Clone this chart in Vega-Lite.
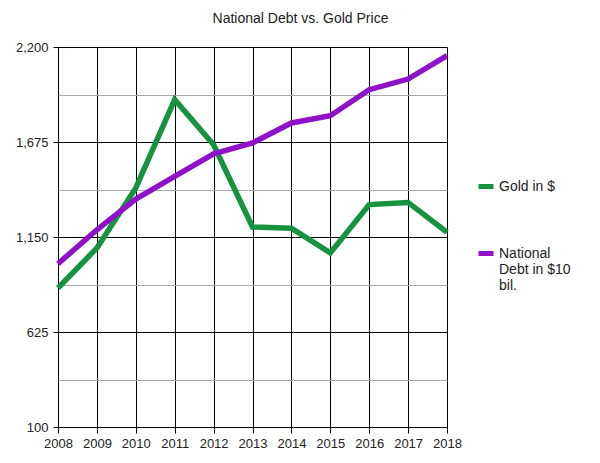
{
  "$schema": "https://vega.github.io/schema/vega-lite/v6.json",
  "width": 389,
  "height": 380,
  "autosize": "none",
  "padding": {"left": 58, "top": 47, "right": 153, "bottom": 36},
  "background": "white",
  "config": {
    "font": "Liberation Sans",
    "view": {"stroke": null},
    "axis": {"labelFont": "Liberation Sans", "labelColor": "#222", "labelFontSize": 13}
  },
  "title": {
    "text": "National Debt vs. Gold Price",
    "fontSize": 14,
    "font": "Liberation Sans",
    "fontWeight": "normal",
    "color": "#222",
    "anchor": "middle",
    "dx": 48,
    "baseline": "alphabetic",
    "offset": 4
  },
  "data": {
    "values": [
      {"year": 2008, "series": "Gold in $", "value": 868},
      {"year": 2009, "series": "Gold in $", "value": 1089},
      {"year": 2010, "series": "Gold in $", "value": 1421},
      {"year": 2011, "series": "Gold in $", "value": 1909},
      {"year": 2012, "series": "Gold in $", "value": 1660},
      {"year": 2013, "series": "Gold in $", "value": 1205},
      {"year": 2014, "series": "Gold in $", "value": 1199},
      {"year": 2015, "series": "Gold in $", "value": 1062},
      {"year": 2016, "series": "Gold in $", "value": 1329},
      {"year": 2017, "series": "Gold in $", "value": 1341},
      {"year": 2018, "series": "Gold in $", "value": 1176},
      {"year": 2008, "series": "National Debt in $10 bil.", "value": 1002},
      {"year": 2009, "series": "National Debt in $10 bil.", "value": 1190},
      {"year": 2010, "series": "National Debt in $10 bil.", "value": 1360},
      {"year": 2011, "series": "National Debt in $10 bil.", "value": 1485},
      {"year": 2012, "series": "National Debt in $10 bil.", "value": 1610},
      {"year": 2013, "series": "National Debt in $10 bil.", "value": 1670},
      {"year": 2014, "series": "National Debt in $10 bil.", "value": 1780},
      {"year": 2015, "series": "National Debt in $10 bil.", "value": 1820},
      {"year": 2016, "series": "National Debt in $10 bil.", "value": 1964},
      {"year": 2017, "series": "National Debt in $10 bil.", "value": 2023},
      {"year": 2018, "series": "National Debt in $10 bil.", "value": 2152}
    ]
  },
  "mark": {"type": "line", "strokeWidth": 5.5, "strokeJoin": "miter"},
  "encoding": {
    "x": {
      "field": "year",
      "type": "quantitative",
      "scale": {"domain": [2008, 2018], "nice": false, "zero": false},
      "axis": {
        "title": null,
        "values": [2008, 2009, 2010, 2011, 2012, 2013, 2014, 2015, 2016, 2017, 2018],
        "format": "d",
        "grid": true,
        "gridColor": "#000",
        "gridOpacity": 1,
        "domainColor": "#000",
        "tickColor": "#000",
        "tickSize": 6,
        "labelPadding": 4,
        "labelFlush": false,
        "labelOverlap": false
      }
    },
    "y": {
      "field": "value",
      "type": "quantitative",
      "scale": {"domain": [100, 2200], "nice": false, "zero": false},
      "axis": {
        "title": null,
        "values": [100, 362.5, 625, 887.5, 1150, 1412.5, 1675, 1937.5, 2200],
        "labelExpr": "indexof([100, 625, 1150, 1675, 2200], datum.value) >= 0 ? format(datum.value, ',') : ''",
        "grid": true,
        "gridOpacity": 1,
        "gridColor": {"condition": {"test": "indexof([100, 625, 1150, 1675, 2200], datum.value) >= 0", "value": "#000"}, "value": "#aaaaaa"},
        "tickColor": {"condition": {"test": "indexof([100, 625, 1150, 1675, 2200], datum.value) >= 0", "value": "#000"}, "value": "transparent"},
        "domain": false,
        "tickSize": 5,
        "labelPadding": 5,
        "labelFlush": false,
        "labelOverlap": false
      }
    },
    "color": {
      "field": "series",
      "type": "nominal",
      "scale": {"domain": ["Gold in $", "National Debt in $10 bil."], "range": ["#16933f", "#8f12c9"]},
      "legend": {
        "title": null,
        "orient": "none",
        "legendX": 418,
        "legendY": 123,
        "symbolType": "M-1,0.87H1",
        "symbolStrokeWidth": 5,
        "symbolSize": 225,
        "symbolFillColor": "transparent",
        "labelFont": "Liberation Sans",
        "labelFontSize": 14,
        "labelColor": "#222",
        "labelExpr": "datum.label == 'National Debt in $10 bil.' ? ['National', 'Debt in $10', 'bil.'] : datum.label",
        "labelBaseline": "top",
        "labelOffset": 3,
        "rowPadding": 40
      }
    }
  }
}
